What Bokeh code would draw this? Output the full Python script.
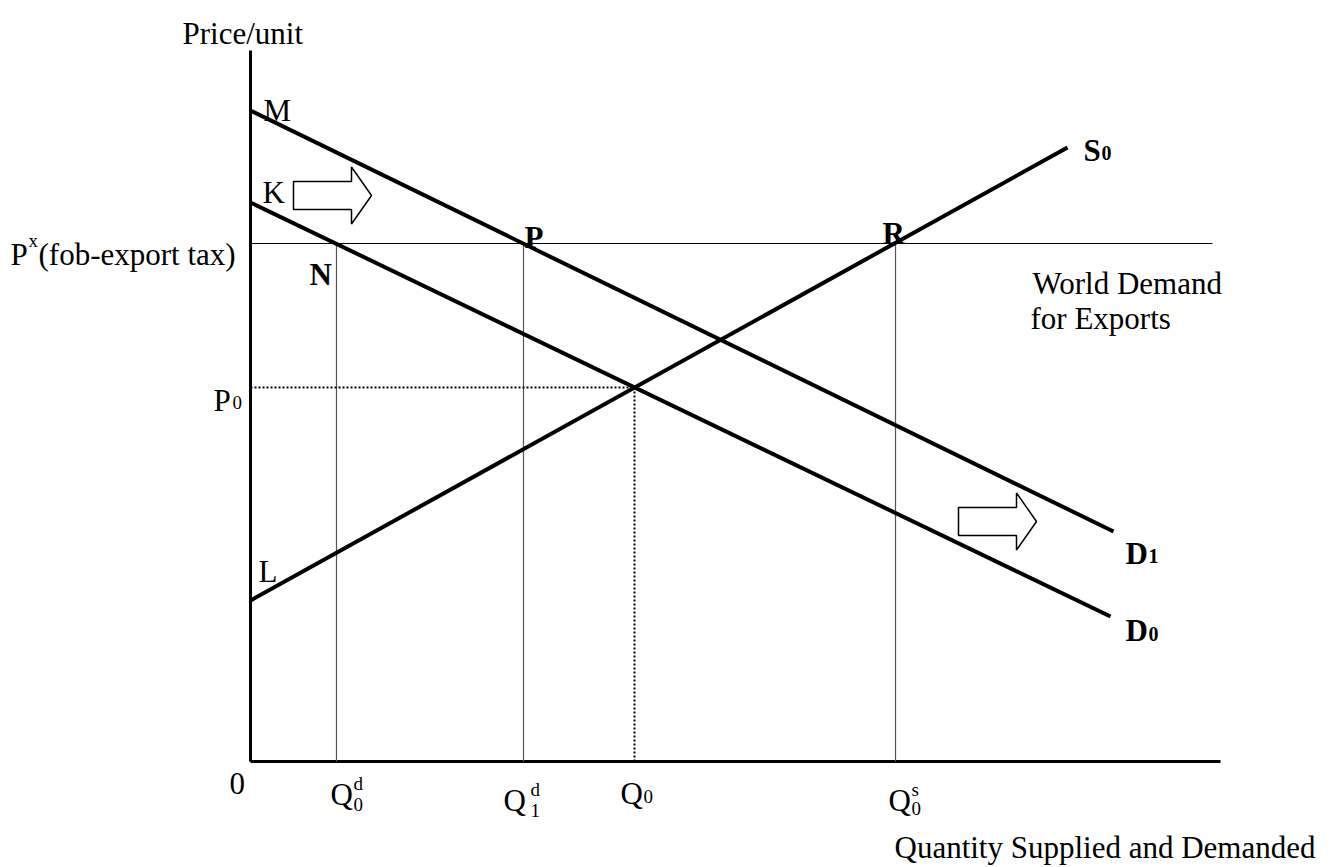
from bokeh.plotting import figure
from bokeh.models import ColumnDataSource, Range1d
from bokeh.core.properties import value
from bokeh.embed import file_html
from bokeh.resources import INLINE

# ---------------- data (quantity, price) ----------------
# supply and demand curves: endpoints
s0_q = [0.0, 81.7]
s0_p = [16.1, 61.4]
d0_q = [0.0, 86.0]
d0_p = [55.9, 14.5]
d1_q = [0.0, 86.3]
d1_p = [65.1, 23.0]

# key price levels
p_world = 51.8      # P^x (fob - export tax)
p_0 = 37.4          # P0
# key quantities
q_0 = 38.4          # Q0
q_d0 = 8.6          # Q0^d
q_d1 = 27.3         # Q1^d
q_s0 = 64.5         # Q0^s
# axis extents
q_max = 97.0
p_max = 71.1
world_line_end = 96.2

# shift arrows (tail-centre positions)
arrow_q = [4.3, 70.8]
arrow_p = [56.6, 24.0]

# text labels
big_text = ["Price/unit", "M", "K", "P", "(fob-export tax)", "World Demand",
            "for Exports", "P", "L", "0", "Q", "Q", "Q", "Q",
            "Quantity Supplied and Demanded"]
big_q = [-6.8, 1.3, 1.2, -24.0, -21.2, 78.2, 78.0, -3.7, 0.8, -2.1,
         8.0, 25.3, 37.0, 63.8, 106.5]
big_p = [72.8, 65.1, 56.9, 50.7, 50.7, 47.8, 44.3, 36.1, 19.0, -2.2,
         -3.3, -3.9, -3.2, -3.9, -8.6]
big_align = ["left"] * 14 + ["right"]

small_text = ["x", "0", "d", "0", "d", "1", "0", "s", "0"]
small_q = [-22.2, -1.8, 10.3, 10.3, 28.0, 28.0, 39.3, 66.1, 66.1]
small_p = [52.1, 35.9, -2.2, -4.3, -2.8, -4.9, -3.5, -2.8, -4.7]

bold_text = ["N", "P", "R", "S", "D", "D"]
bold_q = [5.9, 27.4, 63.2, 83.3, 87.5, 87.5]
bold_p = [48.7, 52.4, 52.8, 61.1, 20.8, 13.1]

bold_small_text = ["0", "1", "0"]
bold_small_q = [85.1, 89.8, 89.8]
bold_small_p = [60.9, 20.6, 12.8]

# ---------------- figure ----------------
FONT = value("Liberation Serif")
p = figure(width=1324, height=867, output_backend="svg", toolbar_location=None,
           x_axis_type=None, y_axis_type=None, min_border=0,
           x_range=Range1d(-25.0, 107.4), y_range=Range1d(-10.6, 76.1),
           outline_line_color=None, background_fill_color="white",
           border_fill_color="white")

# axes
p.segment(x0=[0, 0], y0=[0, 0], x1=[0, q_max], y1=[p_max, 0],
          line_color="black", line_width=3)

# world price line
p.segment(x0=[0], y0=[p_world], x1=[world_line_end], y1=[p_world],
          line_color="black", line_width=1.2)

# vertical drop lines
p.segment(x0=[q_d0, q_d1, q_s0], y0=[0, 0, 0],
          x1=[q_d0, q_d1, q_s0], y1=[p_world] * 3,
          line_color="#555555", line_width=1.2)

# dotted P0 / Q0 lines
p.segment(x0=[0, q_0], y0=[p_0, 0], x1=[q_0, q_0], y1=[p_0, p_0],
          line_color="black", line_width=2, line_dash="2 2")

# curves
for qs, ps in ((s0_q, s0_p), (d0_q, d0_p), (d1_q, d1_p)):
    p.line(qs, ps, line_color="black", line_width=4)

# block arrows
L, HL, H_SHAFT, H_HEAD = 7.8, 2.0, 1.4, 2.85
xs, ys = [], []
for q, pr in zip(arrow_q, arrow_p):
    xs.append([q, q + L - HL, q + L - HL, q + L, q + L - HL, q + L - HL, q])
    ys.append([pr - H_SHAFT, pr - H_SHAFT, pr - H_HEAD, pr, pr + H_HEAD,
               pr + H_SHAFT, pr + H_SHAFT])
p.patches(xs, ys, fill_color="white", line_color="black", line_width=1.5)

# texts
src_big = ColumnDataSource(dict(x=big_q, y=big_p, t=big_text, a=big_align))
p.text(x="x", y="y", text="t", source=src_big, text_font=FONT,
       text_font_size="31px", text_align="a", text_baseline="alphabetic",
       text_color="black")

src_small = ColumnDataSource(dict(x=small_q, y=small_p, t=small_text))
p.text(x="x", y="y", text="t", source=src_small, text_font=FONT,
       text_font_size="19px", text_align="left", text_baseline="alphabetic",
       text_color="black")

src_bold = ColumnDataSource(dict(x=bold_q, y=bold_p, t=bold_text))
p.text(x="x", y="y", text="t", source=src_bold, text_font=FONT,
       text_font_size="31px", text_font_style="bold", text_align="left",
       text_baseline="alphabetic", text_color="black")

src_bold_small = ColumnDataSource(dict(x=bold_small_q, y=bold_small_p,
                                       t=bold_small_text))
p.text(x="x", y="y", text="t", source=src_bold_small, text_font=FONT,
       text_font_size="20px", text_font_style="bold", text_align="left",
       text_baseline="alphabetic", text_color="black")

open("out.html", "w").write(file_html(p, INLINE))
